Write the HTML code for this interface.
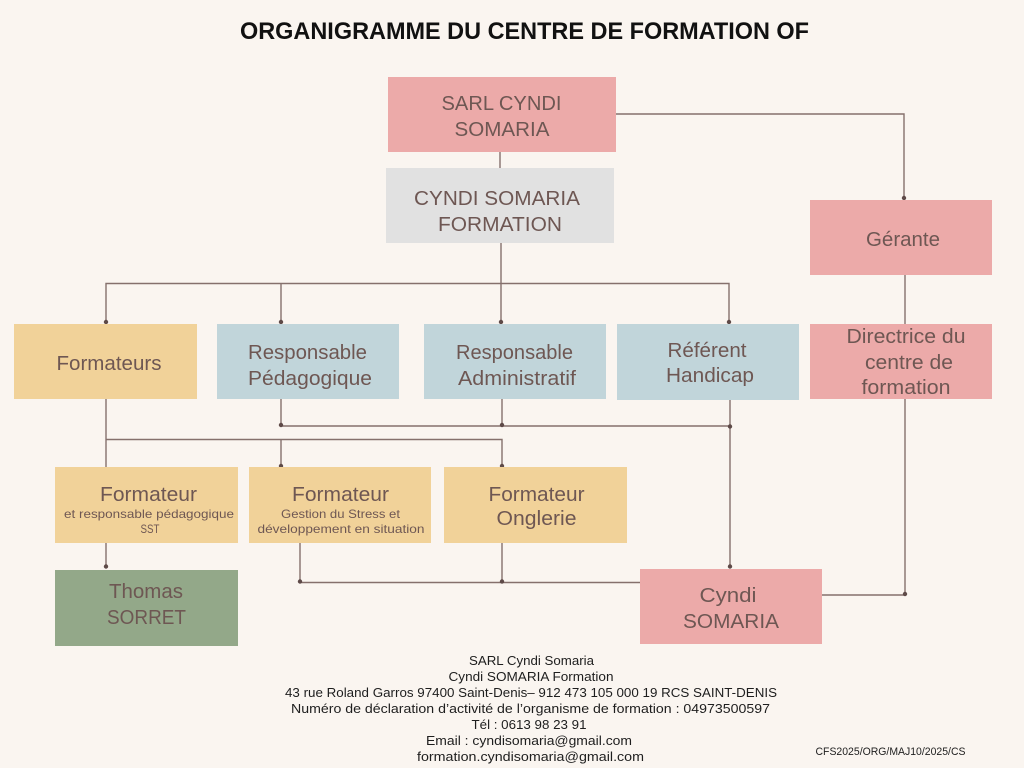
<!DOCTYPE html>
<html>
<head>
<meta charset="utf-8">
<style>
  html, body { margin: 0; padding: 0; background: #faf5f0; }
  svg { display: block; }
  .t { font-family: "Liberation Sans", sans-serif; font-size: 20px; fill: #6e5753; }
  .s { font-family: "Liberation Sans", sans-serif; font-size: 12px; fill: #6e5753; }
  .f { font-family: "Liberation Sans", sans-serif; font-size: 13px; fill: #1e1e1e; }
  .ln { stroke: #85706c; stroke-width: 1.4; fill: none; }
  .dot { fill: #5e4a48; }
</style>
</head>
<body>
<svg width="1024" height="768" viewBox="0 0 1024 768" xmlns="http://www.w3.org/2000/svg">
  <rect width="1024" height="768" fill="#faf5f0"/>

  <!-- Title -->
  <text x="524.5" y="39" text-anchor="middle" textLength="569" lengthAdjust="spacingAndGlyphs"
        style="font-family:'Liberation Sans',sans-serif;font-weight:bold;font-size:24px;fill:#111;">ORGANIGRAMME DU CENTRE DE FORMATION OF</text>

  <!-- Connectors -->
  <path class="ln" d="M500,152 V168"/>
  <path class="ln" d="M616,114 H904 V199"/>
  <path class="ln" d="M501,243 V283.5"/>
  <path class="ln" d="M106,322 V283.5 H729 V322"/>
  <path class="ln" d="M281,283.5 V322"/>
  <path class="ln" d="M501,283.5 V322"/>
  <path class="ln" d="M905,275 V324"/>
  <path class="ln" d="M106,399 V467"/>
  <path class="ln" d="M106,439.5 H502 V466"/>
  <path class="ln" d="M281,439.5 V466"/>
  <path class="ln" d="M281,399 V426 H730"/>
  <path class="ln" d="M502,399 V426"/>
  <path class="ln" d="M730,400 V567"/>
  <path class="ln" d="M106,543 V567"/>
  <path class="ln" d="M300,543 V582.5 H640"/>
  <path class="ln" d="M502,543 V582.5"/>
  <path class="ln" d="M905,399 V595 H822"/>

  <!-- Dots -->
  <circle class="dot" cx="904" cy="198" r="2.2"/>
  <circle class="dot" cx="106" cy="322" r="2.2"/>
  <circle class="dot" cx="281" cy="322" r="2.2"/>
  <circle class="dot" cx="501" cy="322" r="2.2"/>
  <circle class="dot" cx="729" cy="322" r="2.2"/>
  <circle class="dot" cx="281" cy="466" r="2.2"/>
  <circle class="dot" cx="502" cy="466" r="2.2"/>
  <circle class="dot" cx="281" cy="425" r="2.2"/>
  <circle class="dot" cx="502" cy="425" r="2.2"/>
  <circle class="dot" cx="730" cy="426.5" r="2.2"/>
  <circle class="dot" cx="730" cy="566.5" r="2.2"/>
  <circle class="dot" cx="106" cy="566.5" r="2.2"/>
  <circle class="dot" cx="300" cy="581.5" r="2.2"/>
  <circle class="dot" cx="502" cy="581.5" r="2.2"/>
  <circle class="dot" cx="905" cy="594" r="2.2"/>

  <!-- Boxes -->
  <rect x="388" y="77" width="228" height="75" fill="#ecaaa9"/>
  <rect x="386" y="168" width="228" height="75" fill="#e1e1e1"/>
  <rect x="810" y="200" width="182" height="75" fill="#ecaaa9"/>
  <rect x="14" y="324" width="183" height="75" fill="#f1d299"/>
  <rect x="217" y="324" width="182" height="75" fill="#c1d5da"/>
  <rect x="424" y="324" width="182" height="75" fill="#c1d5da"/>
  <rect x="617" y="324" width="182" height="76" fill="#c1d5da"/>
  <rect x="810" y="324" width="182" height="75" fill="#ecaaa9"/>
  <rect x="55" y="467" width="183" height="76" fill="#f1d299"/>
  <rect x="249" y="467" width="182" height="76" fill="#f1d299"/>
  <rect x="444" y="467" width="183" height="76" fill="#f1d299"/>
  <rect x="55" y="570" width="183" height="76" fill="#93a889"/>
  <rect x="640" y="569" width="182" height="75" fill="#ecaaa9"/>

  <!-- Box texts -->
  <text class="t" x="501.5" y="110" text-anchor="middle" textLength="120" lengthAdjust="spacingAndGlyphs">SARL CYNDI</text>
  <text class="t" x="502" y="136" text-anchor="middle" textLength="95" lengthAdjust="spacingAndGlyphs">SOMARIA</text>

  <text class="t" x="497" y="205" text-anchor="middle" textLength="166" lengthAdjust="spacingAndGlyphs">CYNDI SOMARIA</text>
  <text class="t" x="500" y="231" text-anchor="middle" textLength="124" lengthAdjust="spacingAndGlyphs">FORMATION</text>

  <text class="t" x="903" y="246" text-anchor="middle" textLength="74" lengthAdjust="spacingAndGlyphs">Gérante</text>

  <text class="t" x="109" y="370" text-anchor="middle" textLength="105" lengthAdjust="spacingAndGlyphs">Formateurs</text>

  <text class="t" x="307.5" y="359" text-anchor="middle" textLength="119" lengthAdjust="spacingAndGlyphs">Responsable</text>
  <text class="t" x="310" y="385" text-anchor="middle" textLength="124" lengthAdjust="spacingAndGlyphs">Pédagogique</text>

  <text class="t" x="514.5" y="359" text-anchor="middle" textLength="117" lengthAdjust="spacingAndGlyphs">Responsable</text>
  <text class="t" x="517" y="385" text-anchor="middle" textLength="118" lengthAdjust="spacingAndGlyphs">Administratif</text>

  <text class="t" x="707" y="357" text-anchor="middle" textLength="79" lengthAdjust="spacingAndGlyphs">Référent</text>
  <text class="t" x="710" y="382" text-anchor="middle" textLength="88" lengthAdjust="spacingAndGlyphs">Handicap</text>

  <text class="t" x="906" y="343" text-anchor="middle" textLength="119" lengthAdjust="spacingAndGlyphs">Directrice du</text>
  <text class="t" x="909" y="369" text-anchor="middle" textLength="88" lengthAdjust="spacingAndGlyphs">centre de</text>
  <text class="t" x="906" y="394" text-anchor="middle" textLength="89" lengthAdjust="spacingAndGlyphs">formation</text>

  <text class="t" x="148.5" y="501" text-anchor="middle" textLength="97" lengthAdjust="spacingAndGlyphs">Formateur</text>
  <text class="s" x="149" y="518" text-anchor="middle" textLength="170" lengthAdjust="spacingAndGlyphs">et responsable pédagogique</text>
  <text class="s" x="150" y="533" text-anchor="middle" textLength="19" lengthAdjust="spacingAndGlyphs">SST</text>

  <text class="t" x="340.5" y="501" text-anchor="middle" textLength="97" lengthAdjust="spacingAndGlyphs">Formateur</text>
  <text class="s" x="340.5" y="518" text-anchor="middle" textLength="119" lengthAdjust="spacingAndGlyphs">Gestion du Stress et</text>
  <text class="s" x="341" y="533" text-anchor="middle" textLength="167" lengthAdjust="spacingAndGlyphs">développement en situation</text>

  <text class="t" x="536.5" y="501" text-anchor="middle" textLength="96" lengthAdjust="spacingAndGlyphs">Formateur</text>
  <text class="t" x="536.5" y="525" text-anchor="middle" textLength="80" lengthAdjust="spacingAndGlyphs">Onglerie</text>

  <text class="t" x="146" y="598" text-anchor="middle" textLength="74" lengthAdjust="spacingAndGlyphs">Thomas</text>
  <text class="t" x="146.5" y="624" text-anchor="middle" textLength="79" lengthAdjust="spacingAndGlyphs">SORRET</text>

  <text class="t" x="728" y="602" text-anchor="middle" textLength="57" lengthAdjust="spacingAndGlyphs">Cyndi</text>
  <text class="t" x="731" y="628" text-anchor="middle" textLength="96" lengthAdjust="spacingAndGlyphs">SOMARIA</text>

  <!-- Footer -->
  <text class="f" x="531.5" y="665" text-anchor="middle" textLength="125" lengthAdjust="spacingAndGlyphs">SARL Cyndi Somaria</text>
  <text class="f" x="531" y="681" text-anchor="middle" textLength="165" lengthAdjust="spacingAndGlyphs">Cyndi SOMARIA Formation</text>
  <text class="f" x="531" y="697" text-anchor="middle" textLength="492" lengthAdjust="spacingAndGlyphs">43 rue Roland Garros 97400 Saint-Denis– 912 473 105 000 19 RCS SAINT-DENIS</text>
  <text class="f" x="530.5" y="713" text-anchor="middle" textLength="479" lengthAdjust="spacingAndGlyphs">Numéro de déclaration d’activité de l’organisme de formation : 04973500597</text>
  <text class="f" x="529" y="729" text-anchor="middle" textLength="115" lengthAdjust="spacingAndGlyphs">Tél : 0613 98 23 91</text>
  <text class="f" x="529" y="745" text-anchor="middle" textLength="206" lengthAdjust="spacingAndGlyphs">Email : cyndisomaria@gmail.com</text>
  <text class="f" x="530.5" y="761" text-anchor="middle" textLength="227" lengthAdjust="spacingAndGlyphs">formation.cyndisomaria@gmail.com</text>

  <text x="890.5" y="755" text-anchor="middle" textLength="150" lengthAdjust="spacingAndGlyphs"
        style="font-family:'Liberation Sans',sans-serif;font-size:11px;fill:#1e1e1e;">CFS2025/ORG/MAJ10/2025/CS</text>
</svg>
</body>
</html>
